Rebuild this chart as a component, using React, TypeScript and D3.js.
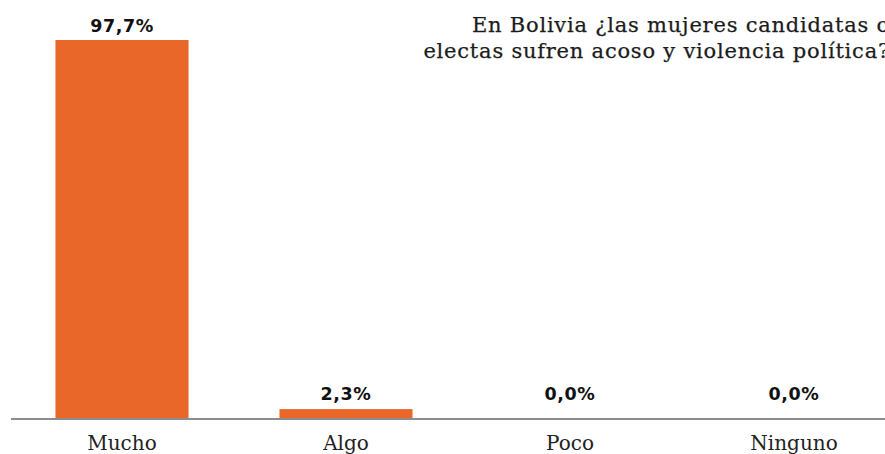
import React from "react";
import * as d3 from "d3";

const categories = ["Mucho", "Algo", "Poco", "Ninguno"];
const values = [97.7, 2.3, 0.0, 0.0];
const valueLabels = ["97,7%", "2,3%", "0,0%", "0,0%"];
const titleLines = [
  "En Bolivia ¿las mujeres candidatas o",
  "electas sufren acoso y violencia política?",
];

const W = 885;
const H = 454;
const baseline = 418;
const barColor = "#EA672A";

export default function App() {
  const x = d3
    .scaleBand<string>()
    .domain(categories)
    .range([10, 906])
    .paddingInner(0.406)
    .paddingOuter(0.203);

  const y = d3.scaleLinear().domain([0, 100]).range([baseline, 31.1]);

  return (
    <svg
      width={W}
      height={H}
      style={{ position: "absolute", left: 0, top: 0, background: "#fff" }}
    >
      {/* title, right-aligned */}
      <g
        fontFamily="'DejaVu Serif', serif"
        fontSize={21}
        fill="#1c1c1c"
        stroke="#1c1c1c"
        strokeWidth={0.25}
        textAnchor="end"
        letterSpacing={0.78}
      >
        {titleLines.map((t, i) => (
          <text key={i} x={890} y={32 + i * 26}>
            {t}
          </text>
        ))}
      </g>

      {/* bars */}
      {categories.map((c, i) => {
        const top = y(values[i]);
        return (
          <rect
            key={c}
            x={x(c)}
            y={top}
            width={x.bandwidth()}
            height={baseline - top}
            fill={barColor}
          />
        );
      })}

      {/* baseline */}
      <line x1={11} x2={W} y1={419} y2={419} stroke="#8c8c8c" strokeWidth={2} />

      {/* value labels */}
      <g
        fontFamily="'DejaVu Sans', sans-serif"
        fontWeight="bold"
        fontSize={17.5}
        fill="#111"
        textAnchor="middle"
        letterSpacing={0.6}
      >
        {categories.map((c, i) => {
          const top = Math.min(y(values[i]), baseline - 10);
          return (
            <text key={c} x={(x(c) as number) + x.bandwidth() / 2} y={top - 8}>
              {valueLabels[i]}
            </text>
          );
        })}
      </g>

      {/* category labels */}
      <g
        fontFamily="'DejaVu Serif', serif"
        fontSize={20}
        fill="#222"
        textAnchor="middle"
      >
        {categories.map((c) => (
          <text key={c} x={(x(c) as number) + x.bandwidth() / 2} y={450}>
            {c}
          </text>
        ))}
      </g>
    </svg>
  );
}
